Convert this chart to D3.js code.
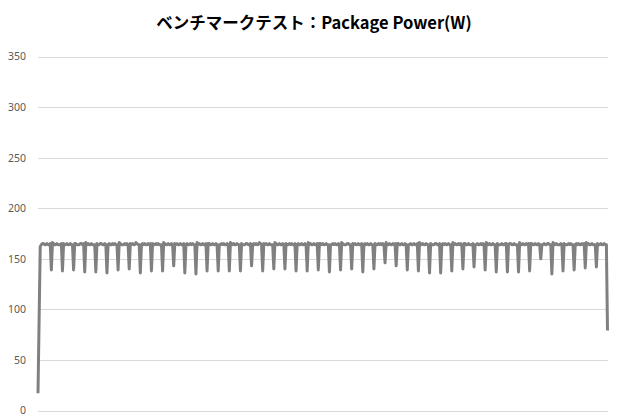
<!DOCTYPE html>
<html>
<head>
<meta charset="utf-8">
<script src="https://cdn.jsdelivr.net/npm/d3@7"></script>
<style>
  body { margin: 0; background: #fff; }
  svg { display: block; }
</style>
</head>
<body>
<svg id="chart" width="620" height="420"></svg>
<script>
const chartTitle = "ベンチマークテスト：Package Power(W)";
const yTicks = [0, 50, 100, 150, 200, 250, 300, 350];

// one sample per step; each row = 9 plateau samples + the dip
const packagePower = [
  17, 90, 162,
  164,165,165,164,164,165,164,164,165, 139,
  166,165,164,164,165,164,164,164,165, 138,
  165,164,164,165,164,164,165,164,164, 139,
  165,165,164,164,164,165,165,164,165, 137,
  166,164,165,164,164,165,164,164,164, 137,
  165,164,164,165,165,164,164,165,164, 136,
  164,165,164,164,165,164,165,164,164, 139,
  166,165,164,164,164,165,164,165,164, 140,
  165,164,165,164,164,166,165,164,164, 136,
  164,165,164,165,164,164,165,164,165, 138,
  165,164,164,165,164,165,164,164,164, 138,
  166,165,164,164,165,164,164,165,164, 143,
  165,164,165,164,164,165,164,164,165, 136,
  164,165,164,164,165,164,165,164,164, 135,
  166,164,165,164,164,165,164,164,165, 138,
  165,165,164,164,165,164,164,165,164, 138,
  164,164,165,164,165,164,164,165,164, 138,
  166,165,164,165,164,164,165,164,164, 138,
  165,164,164,164,165,165,164,164,165, 143,
  164,165,164,165,164,164,166,165,164, 138,
  165,164,165,164,164,165,164,164,164, 140,
  166,165,164,164,165,164,164,165,164, 140,
  165,164,164,165,164,165,164,164,165, 138,
  164,165,164,164,165,164,164,165,164, 138,
  166,164,165,164,164,165,164,164,165, 139,
  165,165,164,165,164,164,165,164,164, 137,
  164,164,165,164,165,164,164,165,164, 139,
  166,165,164,164,164,165,165,164,164, 140,
  165,164,165,164,164,165,164,164,165, 137,
  164,165,164,165,164,164,165,164,164, 140,
  165,164,164,165,164,165,164,165,164, 146,
  166,164,164,165,164,164,165,164,165, 143,
  165,165,164,164,165,164,164,165,164, 139,
  164,164,165,164,164,165,164,164,165, 138,
  166,165,164,165,164,164,165,164,164, 136,
  165,164,164,164,165,165,164,164,165, 136,
  164,165,164,165,164,164,165,164,164, 138,
  166,164,165,164,164,165,164,165,164, 140,
  165,165,164,164,165,164,164,164,165, 142,
  164,164,165,164,164,165,164,165,164, 139,
  166,165,164,165,164,164,165,164,164, 137,
  165,164,164,164,165,164,164,165,165, 137,
  164,165,165,164,164,165,164,164,164, 137,
  166,164,164,165,164,164,165,164,165, 138,
  165,165,164,164,165,164,164,165,164, 150,
  164,164,165,164,164,165,165,164,164, 135,
  166,165,164,165,164,164,164,165,164, 138,
  165,164,164,164,165,164,165,164,164, 139,
  164,165,164,165,164,164,165,164,165, 141,
  166,164,165,164,164,165,164,164,164, 142,
  165,164,164,165,164,164,165,164,164, 79
];

const svg = d3.select("svg#chart");
const margin = {top: 56.5, right: 12.5, bottom: 9.5, left: 38};
const width = +svg.attr("width");
const height = +svg.attr("height");

const xScale = d3.scaleLinear()
    .domain([0, packagePower.length - 1])
    .range([margin.left, width - margin.right]);
const yScale = d3.scaleLinear()
    .domain([0, 350])
    .range([height - margin.bottom, margin.top]);

// gridlines + tick labels
const leftGridlines = d3.axisLeft(yScale)
    .tickValues(yTicks)
    .tickSize(-(width - margin.left - margin.right))
    .tickPadding(12)
    .tickFormat(d3.format("d"));

const yAxis = svg.append("g")
    .attr("transform", `translate(${margin.left}, 0)`)
    .call(leftGridlines);
yAxis.select(".domain").remove();
yAxis.selectAll("line")
    .attr("stroke", "#d9d9d9")
    .attr("shape-rendering", "crispEdges");
yAxis.selectAll("text")
    .style("fill", "#595959")
    .style("font-family", "'Noto Sans', 'Open Sans', sans-serif")
    .style("font-size", "10.5px");

const line = d3.line()
    .x((d, i) => xScale(i))
    .y(d => yScale(d));

svg.append("path")
    .datum(packagePower)
    .attr("d", line)
    .attr("fill", "none")
    .attr("stroke", "#808080")
    .attr("stroke-width", 3)
    .attr("stroke-linejoin", "round");

svg.append("text")
    .attr("x", 314)
    .attr("y", 25)
    .attr("text-anchor", "middle")
    .attr("dominant-baseline", "middle")
    .style("font-family", "'Noto Sans CJK JP', 'Noto Sans', sans-serif")
    .style("font-weight", "bold")
    .style("font-size", "16.5px")
    .style("fill", "#000")
    .text(chartTitle);
</script>
</body>
</html>
